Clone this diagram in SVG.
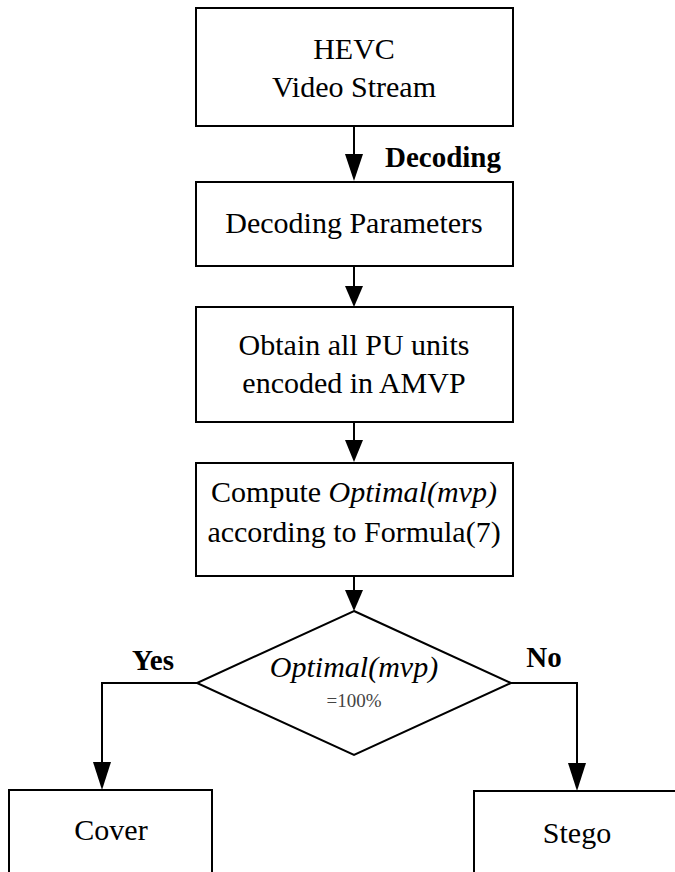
<svg xmlns="http://www.w3.org/2000/svg" width="675" height="872" viewBox="0 0 675 872">
<style>
.box{fill:#fff;stroke:#000;stroke-width:2}
.ln{fill:none;stroke:#000;stroke-width:2}
.ah{fill:#000}
text{font-family:"Liberation Serif","Times New Roman",Times,serif;font-size:30px;fill:#000;text-anchor:middle}
.b{font-weight:bold;font-size:29px}
.i{font-style:italic}
.s{font-size:19px;fill:#444}
</style>
<rect width="675" height="872" fill="#fff"/>
<g id="connectors">
<line class="ln" x1="354" y1="126" x2="354" y2="160"/>
<polygon class="ah" points="345,154 363,154 354,181"/>
<line class="ln" x1="354" y1="266" x2="354" y2="290"/>
<polygon class="ah" points="345,286 363,286 354,307"/>
<line class="ln" x1="354" y1="422" x2="354" y2="445"/>
<polygon class="ah" points="345,440 363,440 354,462"/>
<line class="ln" x1="354" y1="576" x2="354" y2="595"/>
<polygon class="ah" points="345,590 363,590 354,611"/>
<polyline class="ln" points="197,683 102,683 102,765"/>
<polygon class="ah" points="93,762 111,762 102,790"/>
<polyline class="ln" points="511,683 577,683 577,765"/>
<polygon class="ah" points="568,763 586,763 577,791"/>
<text class="b" x="443" y="167">Decoding</text>
<text class="b" x="153" y="670">Yes</text>
<text class="b" x="544" y="667">No</text>
</g>
<g id="hevc">
<rect class="box" x="196" y="8" width="317" height="118"/>
<text x="354" y="59">HEVC</text>
<text x="354" y="97">Video Stream</text>
</g>
<g id="params">
<rect class="box" x="196" y="182" width="317" height="84"/>
<text x="354" y="233">Decoding Parameters</text>
</g>
<g id="obtain">
<rect class="box" x="196" y="307" width="317" height="115"/>
<text x="354" y="355">Obtain all PU units</text>
<text x="354" y="393">encoded in AMVP</text>
</g>
<g id="compute">
<rect class="box" x="196" y="463" width="317" height="113"/>
<text x="354" y="502">Compute <tspan class="i">Optimal(mvp)</tspan></text>
<text x="354" y="542">according to Formula(7)</text>
</g>
<g id="decision">
<polygon class="box" points="354,611 511,683 354,755 197,683"/>
<text class="i" x="354" y="677">Optimal(mvp)</text>
<text class="s" x="354" y="707">=100%</text>
</g>
<g id="cover">
<rect class="box" x="9" y="790" width="203" height="90"/>
<text x="111" y="840">Cover</text>
</g>
<g id="stego">
<rect class="box" x="474" y="791" width="210" height="90"/>
<text x="577" y="843">Stego</text>
</g>
</svg>
